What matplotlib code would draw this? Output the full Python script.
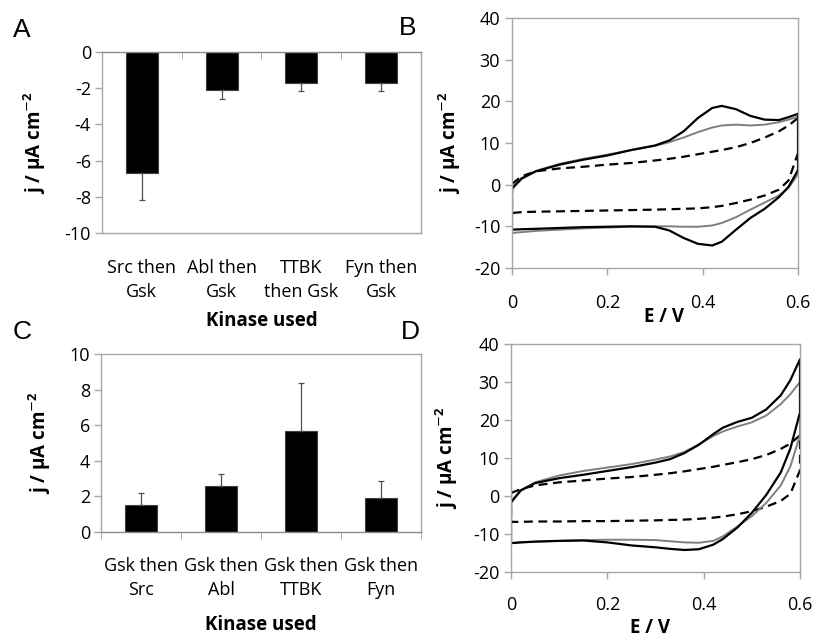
import numpy as np
import matplotlib
matplotlib.use("Agg")
import matplotlib.pyplot as plt

plt.rcParams["font.family"] = ["Open Sans", "DejaVu Sans"]
plt.rcParams["mathtext.default"] = "regular"
plt.rcParams["axes.unicode_minus"] = False

# bar data
labels_a = ["Src then\nGsk", "Abl then\nGsk", "TTBK\nthen Gsk", "Fyn then\nGsk"]
vals_a = [-6.7, -2.1, -1.7, -1.7]
err_a = [1.5, 0.5, 0.45, 0.45]

labels_c = ["Gsk then\nSrc", "Gsk then\nAbl", "Gsk then\nTTBK", "Gsk then\nFyn"]
vals_c = [1.5, 2.6, 5.65, 1.9]
err_c = [0.7, 0.65, 2.7, 0.95]

# CV data: forward (upper) and reverse (lower) branches on a common potential grid
e_grid = [0, 0.02, 0.05, 0.1, 0.15, 0.2, 0.25, 0.3, 0.33, 0.36, 0.39,
          0.42, 0.44, 0.47, 0.5, 0.53, 0.56, 0.58, 0.6]

b_black_up = [-0.8, 1.5, 3.2, 4.8, 6.0, 7.0, 8.3, 9.4, 10.6, 12.8, 16.0,
              18.4, 18.9, 18.1, 16.5, 15.6, 15.5, 16.2, 17.0]
b_black_dn = [-10.8, -10.7, -10.6, -10.4, -10.2, -10.1, -10.0, -10.1, -11.0, -12.8, -14.2,
              -14.6, -13.7, -10.8, -8.0, -5.8, -3.0, -0.5, 3.5]
b_gray_up = [-1.2, 1.3, 3.3, 5.0, 6.2, 7.2, 8.3, 9.3, 10.2, 11.3, 12.6,
             13.7, 14.2, 14.4, 14.2, 14.4, 15.0, 15.6, 16.3]
b_gray_dn = [-11.6, -11.4, -11.1, -10.8, -10.5, -10.3, -10.1, -10.0, -10.0, -10.1, -10.1,
             -9.8, -9.2, -7.8, -6.0, -4.3, -2.6, -0.8, 2.5]
b_dash_up = [0.2, 2.0, 3.2, 3.9, 4.3, 4.8, 5.2, 5.8, 6.2, 6.7, 7.3,
             7.9, 8.3, 9.0, 10.0, 11.3, 12.8, 14.2, 16.0]
b_dash_dn = [-6.8, -6.6, -6.5, -6.4, -6.3, -6.2, -6.1, -6.0, -5.9, -5.8, -5.7,
             -5.4, -5.1, -4.4, -3.6, -2.6, -1.2, 1.0, 7.6]

d_black_up = [-1.6, 1.5, 3.4, 4.7, 5.6, 6.6, 7.6, 8.8, 9.7, 11.3, 13.5,
              16.3, 18.0, 19.5, 20.6, 22.8, 26.5, 30.5, 36.0]
d_black_dn = [-12.4, -12.2, -12.0, -11.8, -11.7, -12.2, -13.0, -13.5, -13.9, -14.2, -14.0,
              -12.8, -11.3, -8.3, -4.4, 0.3, 6.2, 12.5, 22.0]
d_gray_up = [-1.8, 1.3, 3.6, 5.4, 6.6, 7.5, 8.4, 9.6, 10.4, 11.6, 13.6,
             15.8, 17.0, 18.3, 19.4, 21.2, 24.2, 26.8, 30.0]
d_gray_dn = [-12.4, -12.2, -12.0, -11.8, -11.6, -11.5, -11.5, -11.6, -11.9, -12.2, -12.3,
             -11.8, -10.6, -8.0, -5.3, -1.8, 2.8, 7.8, 16.0]
d_dash_up = [0.8, 1.8, 2.8, 3.6, 4.1, 4.6, 5.0, 5.6, 6.0, 6.5, 7.1,
             7.7, 8.2, 8.9, 9.7, 10.8, 12.4, 13.8, 16.0]
d_dash_dn = [-6.8, -6.8, -6.7, -6.7, -6.6, -6.6, -6.5, -6.4, -6.3, -6.2, -6.0,
             -5.7, -5.4, -4.8, -4.0, -2.8, -1.3, 0.6, 6.8]

SPINE = "#a6a6a6"
YLABEL = "j / μA cm$^{\\mathsf{-}2}$"
FS = 13

fig = plt.figure(figsize=(8.14, 6.37), dpi=100)


def style_frame(ax):
    for s in ax.spines.values():
        s.set_color(SPINE)
        s.set_linewidth(1.0)
    ax.tick_params(axis="both", colors=SPINE, labelcolor="black", labelsize=FS,
                   length=5, width=1.0)


def bar_panel(ax, labels, vals, err, ylim, yticks, label_pad, one_side):
    x = np.arange(len(vals))
    if one_side == "down":
        yerr = [err, [0] * len(err)]
    else:
        yerr = [[0] * len(err), err]
    ax.bar(x, vals, width=0.4, color="black", edgecolor="#404040", linewidth=0.8,
           yerr=yerr, error_kw=dict(ecolor="#505050", elinewidth=0.9, capsize=2.5,
                                    capthick=0.9))
    ax.set_xlim(-0.5, 3.5)
    ax.set_ylim(*ylim)
    ax.set_yticks(yticks)
    ax.set_yticklabels([str(t) for t in yticks])
    style_frame(ax)
    ax.set_xticks(x)
    ax.set_xticklabels(labels, fontsize=FS, linespacing=1.4)
    ax.tick_params(axis="x", which="major", length=0, pad=label_pad)
    # category boundary ticks on the zero line
    ax.set_xticks(np.arange(-0.5, 4.0, 1.0), minor=True)
    ax.tick_params(axis="y", pad=3)
    ax.set_ylabel(YLABEL, fontsize=13.5, fontweight="bold")


def cv_panel(ax, curves, tick_pad):
    for up, dn, color, lw, ls in curves:
        e = list(e_grid) + list(e_grid[::-1]) + [e_grid[0]]
        j = list(up) + list(dn[::-1]) + [up[0]]
        ax.plot(e, j, color=color, lw=lw, ls=ls, dashes=(4, 2.5) if ls == "--" else (None, None))
    ax.set_xlim(0, 0.6)
    ax.set_ylim(-20, 40)
    ax.set_xticks([0, 0.2, 0.4, 0.6])
    ax.set_xticklabels(["0", "0.2", "0.4", "0.6"])
    ax.set_yticks(range(-20, 41, 10))
    style_frame(ax)
    ax.tick_params(axis="x", pad=tick_pad)
    ax.set_ylabel(YLABEL, fontsize=13.5, fontweight="bold")
    ax.set_xlabel("E / V", fontsize=13.5, fontweight="bold")


# Panel A
ax_a = fig.add_axes([0.1253, 0.6342, 0.3919, 0.2841])
bar_panel(ax_a, labels_a, vals_a, err_a, (-10, 0), list(range(-10, 1, 2)), 19, "down")
ax_a.tick_params(axis="x", which="minor", top=True, bottom=False, direction="in",
                 length=5, color=SPINE)
ax_a.spines["top"].set_color("#8c8c8c")
ax_a.set_xlabel("Kinase used", fontsize=13.5, fontweight="bold")
ax_a.xaxis.set_label_coords(0.5, -0.43)
ax_a.yaxis.set_label_coords(-0.17, 0.5)

# Panel C
ax_c = fig.add_axes([0.1241, 0.1648, 0.3931, 0.2794])
bar_panel(ax_c, labels_c, vals_c, err_c, (0, 10), list(range(0, 11, 2)), 18, "up")
ax_c.tick_params(axis="x", which="minor", bottom=True, direction="out",
                 length=5, color=SPINE)
ax_c.spines["bottom"].set_color("#8c8c8c")
ax_c.set_xlabel("Kinase used", fontsize=13.5, fontweight="bold")
ax_c.xaxis.set_label_coords(0.5, -0.465)
ax_c.yaxis.set_label_coords(-0.15, 0.5)

# Panel B
ax_b = fig.add_axes([0.629, 0.5793, 0.3514, 0.3925])
cv_panel(ax_b, [
    (b_dash_up, b_dash_dn, "black", 1.6, "--"),
    (b_gray_up, b_gray_dn, "#7f7f7f", 1.4, "-"),
    (b_black_up, b_black_dn, "black", 1.6, "-"),
], 14)
ax_b.xaxis.set_label_coords(0.53, -0.155)
ax_b.yaxis.set_label_coords(-0.17, 0.5)

# Panel D
ax_d = fig.add_axes([0.6278, 0.102, 0.355, 0.3579])
cv_panel(ax_d, [
    (d_dash_up, d_dash_dn, "black", 1.6, "--"),
    (d_gray_up, d_gray_dn, "#7f7f7f", 1.4, "-"),
    (d_black_up, d_black_dn, "black", 1.6, "-"),
], 12)
ax_d.xaxis.set_label_coords(0.48, -0.2)
ax_d.yaxis.set_label_coords(-0.175, 0.5)

# panel letters
for letter, x, y in [("A", 0.027, 0.953), ("B", 0.501, 0.956),
                     ("C", 0.027, 0.479), ("D", 0.504, 0.479)]:
    fig.text(x, y, letter, fontsize=19, family="Liberation Sans", ha="center", va="center")

fig.savefig("out.png", dpi=100)
